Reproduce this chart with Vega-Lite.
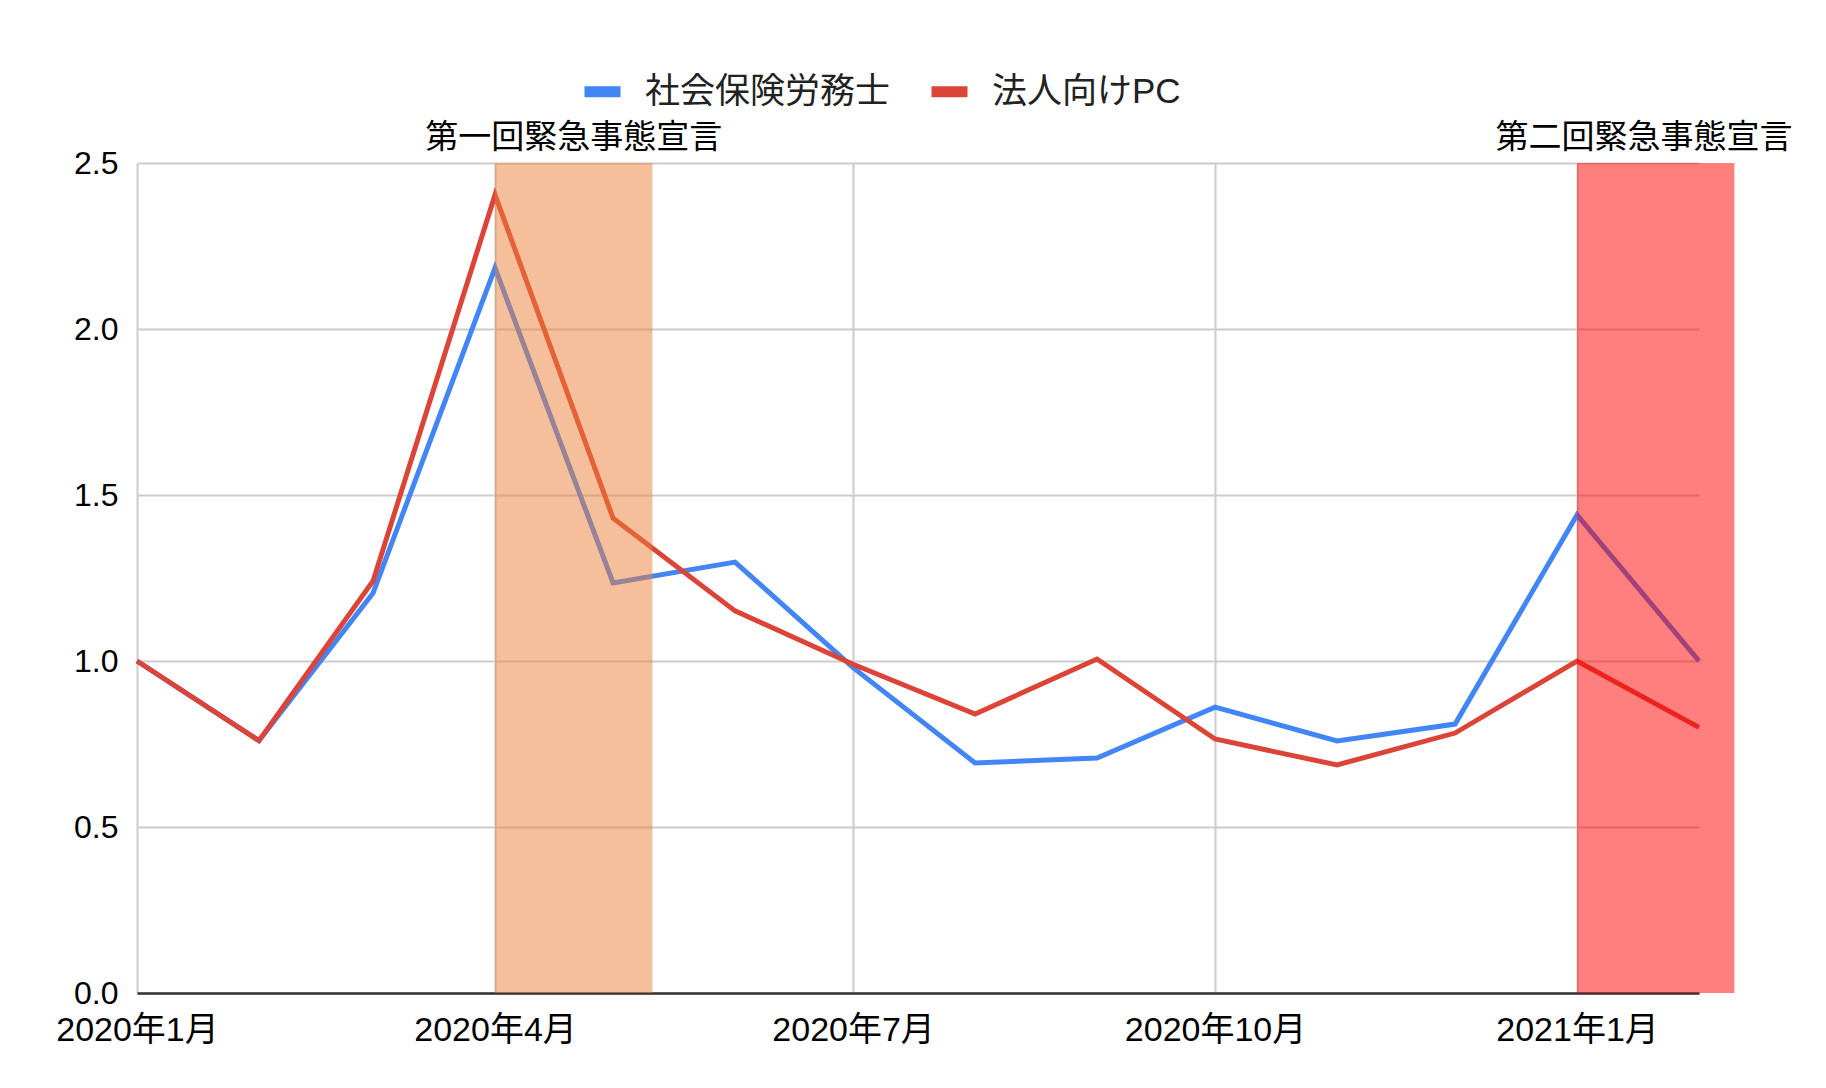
{
  "$schema": "https://vega.github.io/schema/vega-lite/v6.json",
  "width": 1562,
  "height": 830,
  "autosize": {"type": "none"},
  "padding": {"left": 137, "top": 163, "right": 127, "bottom": 95},
  "background": "white",
  "config": {
    "view": {"stroke": null},
    "font": "Liberation Sans, Noto Sans CJK JP",
    "axis": {
      "labelFont": "Liberation Sans, Noto Sans CJK JP",
      "labelFontSize": 32,
      "labelColor": "#000000",
      "labelLimit": 0,
      "gridColor": "#cccccc",
      "gridWidth": 2,
      "ticks": false,
      "title": null
    }
  },
  "datasets": {
    "lines": [
      {"month": "2020/01/01", "series": "社会保険労務士", "value": 1.0},
      {"month": "2020/02/01", "series": "社会保険労務士", "value": 0.76},
      {"month": "2020/03/01", "series": "社会保険労務士", "value": 1.205},
      {"month": "2020/04/01", "series": "社会保険労務士", "value": 2.184},
      {"month": "2020/05/01", "series": "社会保険労務士", "value": 1.235},
      {"month": "2020/06/01", "series": "社会保険労務士", "value": 1.298},
      {"month": "2020/07/01", "series": "社会保険労務士", "value": 0.98},
      {"month": "2020/08/01", "series": "社会保険労務士", "value": 0.693},
      {"month": "2020/09/01", "series": "社会保険労務士", "value": 0.708},
      {"month": "2020/10/01", "series": "社会保険労務士", "value": 0.861},
      {"month": "2020/11/01", "series": "社会保険労務士", "value": 0.759},
      {"month": "2020/12/01", "series": "社会保険労務士", "value": 0.81},
      {"month": "2021/01/01", "series": "社会保険労務士", "value": 1.44},
      {"month": "2021/02/01", "series": "社会保険労務士", "value": 1.0},
      {"month": "2020/01/01", "series": "法人向けPC", "value": 1.0},
      {"month": "2020/02/01", "series": "法人向けPC", "value": 0.76},
      {"month": "2020/03/01", "series": "法人向けPC", "value": 1.241},
      {"month": "2020/04/01", "series": "法人向けPC", "value": 2.404},
      {"month": "2020/05/01", "series": "法人向けPC", "value": 1.43},
      {"month": "2020/06/01", "series": "法人向けPC", "value": 1.151},
      {"month": "2020/07/01", "series": "法人向けPC", "value": 0.99},
      {"month": "2020/08/01", "series": "法人向けPC", "value": 0.84},
      {"month": "2020/09/01", "series": "法人向けPC", "value": 1.006},
      {"month": "2020/10/01", "series": "法人向けPC", "value": 0.765},
      {"month": "2020/11/01", "series": "法人向けPC", "value": 0.687},
      {"month": "2020/12/01", "series": "法人向けPC", "value": 0.783},
      {"month": "2021/01/01", "series": "法人向けPC", "value": 1.0},
      {"month": "2021/02/01", "series": "法人向けPC", "value": 0.8}
    ],
    "bands": [
      {"start": "2020/04/01", "end": "2020/05/11", "kind": "第一回"},
      {"start": "2021/01/01", "end": "2021/02/10", "kind": "第二回"}
    ],
    "notes": [
      {"date": "2020/04/21", "label": "第一回緊急事態宣言"},
      {"date": "2021/01/18", "label": "第二回緊急事態宣言"}
    ]
  },
  "layer": [
    {
      "data": {"name": "lines"},
      "mark": {"type": "line", "strokeWidth": 5},
      "encoding": {
        "x": {
          "field": "month",
          "type": "temporal",
          "scale": {
            "domain": [{"year": 2020, "month": 1, "date": 1}, {"year": 2021, "month": 2, "date": 1}],
            "nice": false
          },
          "axis": {
            "values": [
              {"year": 2020, "month": 1, "date": 1},
              {"year": 2020, "month": 4, "date": 1},
              {"year": 2020, "month": 7, "date": 1},
              {"year": 2020, "month": 10, "date": 1},
              {"year": 2021, "month": 1, "date": 1}
            ],
            "format": "%Y年%-m月",
            "labelFontSize": 34,
            "labelLimit": 0,
            "labelPadding": 20,
            "domainColor": "#333333",
            "domainWidth": 2.5,
            "labelFlush": false,
            "labelOverlap": false
          }
        },
        "y": {
          "field": "value",
          "type": "quantitative",
          "scale": {"domain": [0, 2.5], "nice": false},
          "axis": {
            "values": [0, 0.5, 1, 1.5, 2, 2.5],
            "format": ".1f",
            "domain": false,
            "labelPadding": 19
          }
        },
        "color": {
          "field": "series",
          "type": "nominal",
          "sort": ["社会保険労務士", "法人向けPC"],
          "scale": {"domain": ["社会保険労務士", "法人向けPC"], "range": ["#4285f4", "#db4437"]},
          "legend": {
            "title": null,
            "orient": "none",
            "direction": "horizontal",
            "legendX": 442,
            "legendY": -95,
            "padding": 0,
            "symbolType": "stroke",
            "symbolSize": 1296,
            "symbolStrokeWidth": 11,
            "labelFontSize": 35,
            "labelFont": "Liberation Sans, Noto Sans CJK JP",
            "labelColor": "#222222",
            "labelOffset": 19,
            "columnPadding": 18,
            "labelLimit": 0
          }
        }
      }
    },
    {
      "data": {"name": "bands"},
      "mark": {"type": "rect", "opacity": 0.5},
      "encoding": {
        "x": {"field": "start", "type": "temporal"},
        "x2": {"field": "end"},
        "color": {
          "field": "kind",
          "type": "nominal",
          "scale": {"domain": ["第一回", "第二回"], "range": ["#eb7f39", "#ff0000"]},
          "legend": null
        }
      }
    },
    {
      "data": {"name": "notes"},
      "mark": {
        "type": "text",
        "fontSize": 33,
        "font": "Noto Sans CJK JP",
        "color": "#000000",
        "baseline": "bottom",
        "align": "center",
        "dy": -8
      },
      "encoding": {
        "x": {"field": "date", "type": "temporal"},
        "y": {"datum": 2.5},
        "text": {"field": "label"}
      }
    }
  ],
  "resolve": {"scale": {"color": "independent"}}
}
